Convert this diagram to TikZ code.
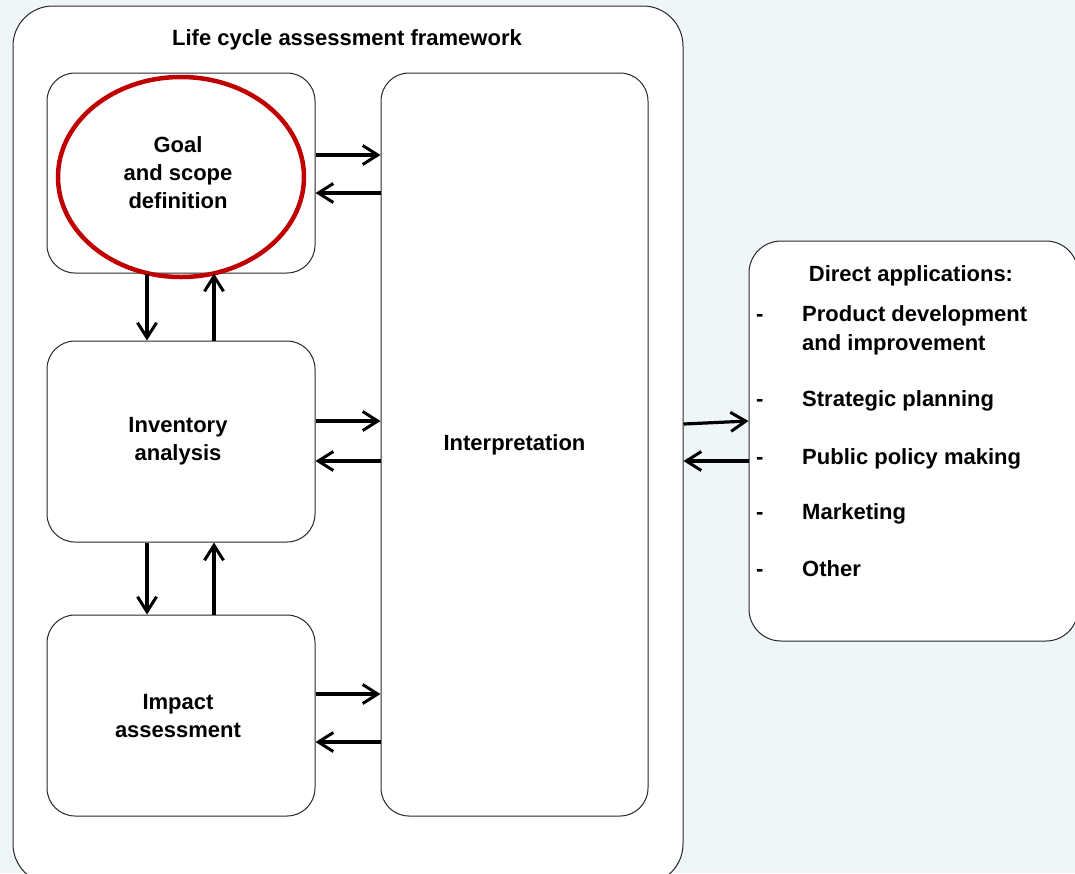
\documentclass[tikz,border=0pt]{standalone}
\usepackage{fontspec}
\setmainfont{Liberation Sans}
\usetikzlibrary{arrows.meta,shapes.geometric}
\definecolor{bgblue}{RGB}{238,246,248}
\definecolor{ringred}{RGB}{192,0,0}
\definecolor{edge}{RGB}{40,40,40}
\tikzset{
  box/.style={draw=edge, line width=1pt, fill=white, rounded corners=#1, inner sep=0pt},
  box/.default=28pt,
  lbl/.style={font=\fontsize{22}{28}\selectfont\bfseries, align=center},
  item/.style={font=\fontsize{22}{28}\selectfont\bfseries, anchor=base west, inner sep=0pt},
  arr/.style={draw=black, line width=3.2pt, -{Straight Barb[length=15pt,width=19pt,line width=3pt]}},
}
\begin{document}
\begin{tikzpicture}[x=1pt,y=-1pt]
\useasboundingbox (0,0) rectangle (1075,873);
\fill[bgblue] (0,0) rectangle (1075,873);
\begin{scope}
\clip (0,0) rectangle (1075,873);
% outer frame
\node[box=40pt, minimum width=670pt, minimum height=878pt] (frame) at (348,445) {};
% direct applications
\node[box=32pt, minimum width=329pt, minimum height=400pt] (apps) at (913.5,441) {};
\end{scope}
\node[lbl] (title) at (347,40) {Life cycle assessment framework};
% inner boxes
\node[box, minimum width=268pt, minimum height=200pt] (goal) at (181,173) {};
\node[box, minimum width=268pt, minimum height=201pt] (inv) at (181,441.5) {};
\node[box, minimum width=268pt, minimum height=201pt] (imp) at (181,715.5) {};
\node[box, minimum width=267pt, minimum height=743pt, lbl] (interp) at (514.5,444.5) {Interpretation};
% red ellipse
\node[ellipse, draw=ringred, line width=4.5pt, minimum width=246pt, minimum height=200pt] (ring) at (181,177) {};
\node[lbl] (goaltxt) at (178,173) {Goal\\and scope\\definition};
\node[lbl] (invtxt) at (178,441) {Inventory\\analysis};
\node[lbl] (imptxt) at (178,716) {Impact\\assessment};
% arrows to/from interpretation
\draw[arr] ([yshift=18pt]goal.east) -- ([yshift=18pt]goal.east -| interp.west);
\draw[arr] ([yshift=-20pt]goal.east -| interp.west) -- ([yshift=-20pt]goal.east);
\draw[arr] ([yshift=20.5pt]inv.east) -- ([yshift=20.5pt]inv.east -| interp.west);
\draw[arr] ([yshift=-19.5pt]inv.east -| interp.west) -- ([yshift=-19.5pt]inv.east);
\draw[arr] ([yshift=21.5pt]imp.east) -- ([yshift=21.5pt]imp.east -| interp.west);
\draw[arr] ([yshift=-26.5pt]imp.east -| interp.west) -- ([yshift=-26.5pt]imp.east);
% vertical arrows
\draw[arr] ([xshift=-34pt]goal.south) -- ([xshift=-34pt]inv.north);
\draw[arr] ([xshift=33pt]inv.north) -- ([xshift=33pt]goal.south);
\draw[arr] ([xshift=-34pt]inv.south) -- ([xshift=-34pt]imp.north);
\draw[arr] ([xshift=33pt]imp.north) -- ([xshift=33pt]inv.south);
% arrows frame <-> applications
\draw[arr] ([yshift=17pt]frame.east |- apps.center) -- ([yshift=20pt]apps.west);
\draw[arr] ([yshift=-20pt]apps.west) -- ([yshift=-20pt]apps.west -| frame.east);
% application text
\node[font=\fontsize{22}{28}\selectfont\bfseries, anchor=base, inner sep=0pt] (appstitle) at (911,281) {Direct applications:};
\node[item] (d1) at (756,321) {-};
\node[item] (i1) at (802,321) {Product development};
\node[item] (i1b) at (802,350) {and improvement};
\node[item] (d2) at (756,406) {-};
\node[item] (i2) at (802,406) {Strategic planning};
\node[item] (d3) at (756,464) {-};
\node[item] (i3) at (802,464) {Public policy making};
\node[item] (d4) at (756,519) {-};
\node[item] (i4) at (802,519) {Marketing};
\node[item] (d5) at (756,576) {-};
\node[item] (i5) at (802,576) {Other};
\end{tikzpicture}
\end{document}
